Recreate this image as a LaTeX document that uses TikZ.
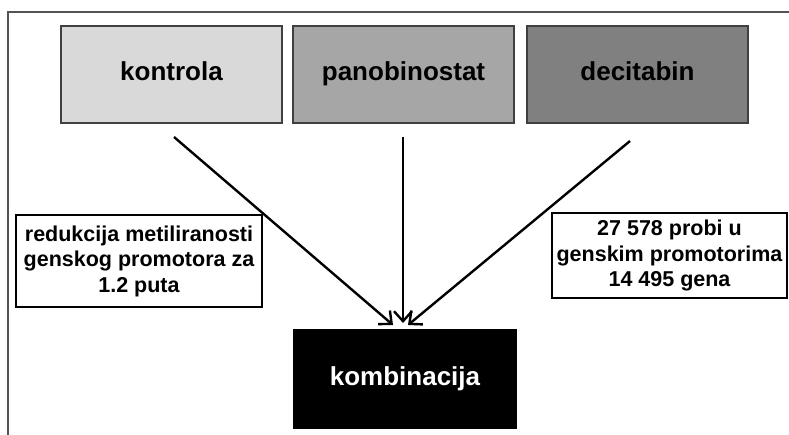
\documentclass[tikz,border=0pt]{standalone}
\usepackage{fontspec}
\setmainfont{Liberation Sans}
\usetikzlibrary{positioning,arrows.meta}

\definecolor{svijetla}{HTML}{D9D9D9}
\definecolor{srednja}{HTML}{A6A6A6}
\definecolor{tamna}{HTML}{808080}
\definecolor{rub}{HTML}{404040}

\begin{document}
\begin{tikzpicture}[x=1pt, y=-1pt] %shema tretmana
			\tikzstyle{gornji} = [rectangle, draw=rub, line width=2pt, minimum width=221pt, minimum height=97pt, inner sep=0pt, text height=19pt, text depth=6pt, font=\fontsize{26}{31}\selectfont\bfseries]
			\tikzstyle{opis} = [rectangle, draw=black, line width=1.5pt, fill=white, inner sep=0pt, text centered, align=center, font=\fontsize{21.5}{25.5}\selectfont\bfseries]
			\tikzstyle{strelica} = [line width=2.4pt, -{Straight Barb[length=10pt, width=18pt, line width=2.4pt]}]
			\useasboundingbox (0,0) rectangle (789,435);
			\fill[white] (0,0) rectangle (789,435);
			\draw[rub!90, line width=2pt] (8,12) rectangle (810,460);
			\foreach \name/\tekst/\boja/\x in {kontrola/kontrola/svijetla/171.5, panobinostat/panobinostat/srednja/403.5, decitabin/decitabin/tamna/637.5}
			{
				\node[gornji, fill=\boja] (\name) at (\x,74.5) {\tekst};
			}
			\node[rectangle, fill=black, text=white, minimum width=224pt, minimum height=100pt, inner sep=0pt, text height=19pt, text depth=6pt, font=\fontsize{26}{31}\selectfont\bfseries] (kombinacija) at (405,379) {kombinacija};
			\node[opis, minimum width=246pt, minimum height=92pt] (redukcija) at (139,261) {redukcija metiliranosti\\genskog promotora za\\1.2 puta};
			\node[opis, minimum width=235pt, minimum height=85pt] (probe) at (669.5,255.5) {27 578 probi u\\genskim promotorima\\14 495 gena};
			\foreach \name/\sx/\sy/\ex/\ey in {lijevo/174/137/393/325, sredina/403/137/403/323, desno/630/141/408/325}
			{
				\coordinate (\name poc) at (\sx,\sy);
				\coordinate (\name kraj) at (\ex,\ey);
				\draw[strelica] (\name poc) -- (\name kraj);
			}
		\end{tikzpicture}
\end{document}
